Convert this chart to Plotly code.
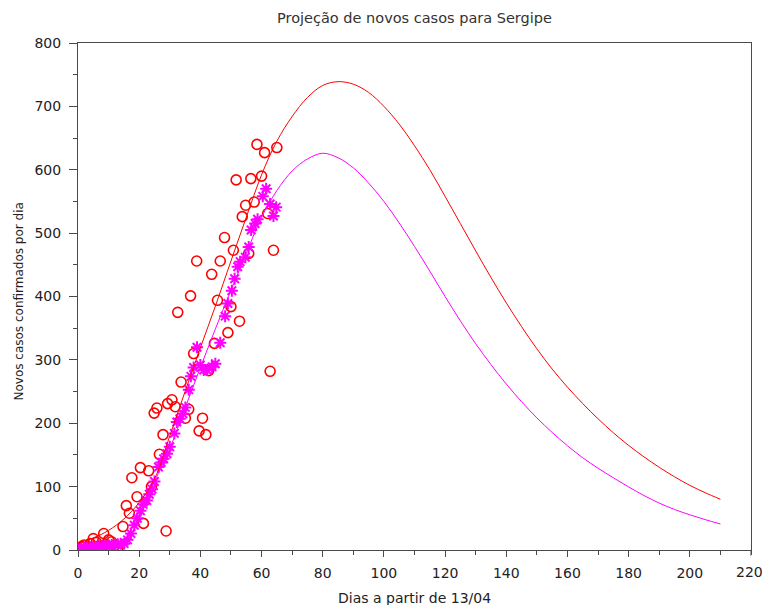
import plotly.graph_objects as go

# Daily new confirmed cases (red circles)
casos_x = [0, 1, 2, 3, 4, 5, 6, 7, 8.4, 9, 10, 11, 12, 13,
           14.7, 15.8, 16.8, 17.6, 19.3, 20.4, 21.4, 23.1, 24.0, 24.9, 25.8, 26.6, 27.8, 28.8,
           29.3, 30.7, 31.8, 32.6, 33.7, 35.1, 36.2, 36.8, 37.8, 38.8, 39.6, 40.7, 41.8, 42.7,
           43.7, 44.6, 45.6, 46.5, 47.9, 49.0, 50.0, 50.8, 51.7, 52.8, 53.7, 54.8, 55.8, 56.5,
           57.6, 58.5, 60.0, 61.0, 62.0, 62.8, 63.9, 65.0]
casos_y = [2, 5, 8, 4, 10, 18, 12, 6, 26, 9, 16, 13, 7, 3,
           37, 70, 58, 114, 84, 130, 42, 125, 100, 216, 224, 151, 182, 30,
           231, 237, 226, 375, 265, 208, 222, 401, 310, 456, 188, 208, 182, 283,
           435, 326, 394, 456, 493, 343, 384, 473, 584, 361, 526, 544, 468, 586,
           549, 640, 590, 627, 531, 282, 473, 635]

# Smoothed daily cases (magenta stars)
media_x = [0, 1, 2, 3, 4, 5, 6, 7, 8, 9, 10, 11, 12, 13, 14,
           15.1, 16.2, 17.3, 18.4, 19.4, 20.4, 21.3, 22.5, 23.3, 24.2, 25.0, 26.3, 27.2, 28.0,
           29.1, 30.0, 31.5, 32.3, 33.3, 34.3, 35.1, 36.2, 36.9, 37.8, 38.9, 40.0, 41.1, 42.2,
           43.8, 44.9, 46.5, 48.1, 49.0, 50.3, 51.2, 52.2, 53.0, 54.7, 55.8, 56.6, 57.9, 58.7,
           60.4, 61.5, 62.8, 63.9, 64.8]
media_y = [2, 3, 3, 4, 4, 5, 5, 6, 6, 7, 7, 8, 8, 9, 10,
           10, 16, 26, 39, 50, 62, 72, 78, 88, 96, 108, 131, 138, 144,
           152, 163, 184, 202, 207, 215, 225, 253, 274, 288, 320, 292, 284, 284,
           289, 294, 327, 369, 389, 409, 428, 447, 455, 462, 478, 505, 515, 522,
           558, 570, 546, 527, 541]

# Projection curves
proj_x = [0, 5, 10, 15, 20, 25, 30, 35, 40, 45, 50, 55, 60, 65, 70, 75, 80, 85, 90,
          95, 100, 105, 110, 115, 120, 125, 130, 135, 140, 145, 150, 155, 160, 165,
          170, 175, 180, 185, 190, 195, 200, 205, 210]
proj_casos = [11, 19, 31, 49, 75, 112, 180, 250, 319, 386, 456, 525, 592, 645, 684, 714,
              733, 739, 735, 722, 700, 672, 638, 600, 558, 515, 472, 430, 390, 352.5, 317.5,
              285.5, 257, 231, 207, 185, 165, 147, 130.5, 115.5, 102, 90.5, 80]

proj_media_x = [0, 5, 10, 13, 15, 16, 18, 20, 25, 30, 35, 40, 45, 50, 55, 60, 65, 70, 75,
                80, 85, 90, 95, 100, 105, 110, 115, 120, 125, 130, 135, 140, 145, 150, 155,
                160, 165, 170, 175, 180, 185, 190, 195, 200, 205, 210]
proj_media = [3, 4, 5, 6, 9, 13, 30, 55, 108, 160, 224, 288, 350, 410, 468, 525, 567, 598,
              617, 626, 619, 603, 579, 550, 516, 479, 440, 400, 361.5, 325.5, 292.5, 262,
              234, 208.5, 185.5, 164.5, 145.5, 129, 114, 99.5, 86, 74, 64, 55.5, 48, 41]

x_ticks = list(range(0, 221, 20))
y_ticks = list(range(0, 801, 100))

RED = "#ff0000"
MAGENTA = "#ff00ff"
AXIS = "#4a4a4a"
FONT = "DejaVu Sans, Verdana, sans-serif"

fig = go.Figure()

fig.add_trace(go.Scatter(
    x=casos_x, y=casos_y, mode="markers",
    marker=dict(symbol="circle-open", size=10, color=RED, line=dict(width=1.6, color=RED)),
    showlegend=False))

fig.add_trace(go.Scatter(
    x=media_x, y=media_y, mode="markers",
    marker=dict(symbol="asterisk-open", size=10, color=MAGENTA,
                line=dict(width=2, color=MAGENTA)),
    showlegend=False))

fig.add_trace(go.Scatter(
    x=proj_x, y=proj_casos, mode="lines",
    line=dict(color=RED, width=1, shape="spline", smoothing=1.0),
    showlegend=False))

fig.add_trace(go.Scatter(
    x=proj_media_x, y=proj_media, mode="lines",
    line=dict(color=MAGENTA, width=1, shape="spline", smoothing=1.0),
    showlegend=False))

# The last x tick sits at the right border; its label is placed as an annotation
last_tick = x_ticks[-1]

fig.update_layout(
    width=763, height=605,
    margin=dict(l=78, r=12, t=43, b=55),
    paper_bgcolor="white", plot_bgcolor="white",
    font=dict(family=FONT, size=14, color="#222222"),
    title=dict(text="Projeção de novos casos para Sergipe",
               x=0.5, xanchor="center", xref="paper",
               y=0.97, yanchor="middle",
               font=dict(family=FONT, size=14.5, color="#333333")),
    xaxis=dict(
        range=[0, 220], tickvals=x_ticks[:-1], ticktext=[str(v) for v in x_ticks[:-1]],
        showgrid=False, zeroline=False, automargin=False,
        showline=True, linecolor=AXIS, linewidth=1, mirror=True,
        ticks="outside", ticklen=6, tickcolor=AXIS,
        minor=dict(dtick=10, ticks="outside", ticklen=4, tickcolor=AXIS),
        tickfont=dict(size=14), ticklabelstandoff=4,
    ),
    yaxis=dict(
        range=[0, 800], tickvals=y_ticks, ticktext=[str(v) for v in y_ticks],
        showgrid=False, zeroline=False, automargin=False,
        showline=True, linecolor=AXIS, linewidth=1, mirror=True,
        ticks="outside", ticklen=8, tickcolor=AXIS,
        minor=dict(dtick=50, ticks="outside", ticklen=4, tickcolor=AXIS),
        tickfont=dict(size=14), ticklabelstandoff=5,
    ),
    shapes=[dict(type="line", xref="x", yref="paper", x0=last_tick, x1=last_tick,
                 ysizemode="pixel", yanchor=0, y0=-6, y1=0,
                 line=dict(color=AXIS, width=1))],
    annotations=[
        dict(text=str(last_tick), xref="x", yref="paper", x=last_tick, y=0,
             yshift=-22, xshift=-2, xanchor="center", yanchor="middle", showarrow=False,
             font=dict(size=14)),
        dict(text="Dias a partir de 13/04", xref="paper", yref="paper",
             x=0.5, y=0, yshift=-48, xanchor="center", yanchor="middle",
             showarrow=False, font=dict(size=14)),
        dict(text="Novos casos confirmados por dia", xref="paper", yref="paper",
             x=0, y=0.5, xshift=-60, yshift=-5, xanchor="center", yanchor="middle",
             textangle=-90, showarrow=False, font=dict(size=12)),
    ],
)

fig.write_html("out.html")
